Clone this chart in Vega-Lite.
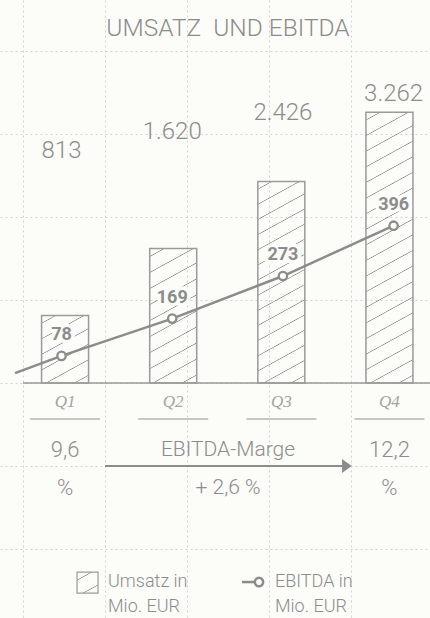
{
  "$schema": "https://vega.github.io/schema/vega-lite/v6.json",
  "width": 430,
  "height": 618,
  "autosize": {"type": "none"},
  "padding": 0,
  "background": "#fcfcf9",
  "config": {
    "view": {"stroke": null},
    "locale": {"number": {"decimal": ",", "thousands": ".", "grouping": [3], "currency": ["", " €"]}},
    "text": {"font": "Roboto, Liberation Sans, sans-serif", "fontWeight": 300, "color": "#8c8c8c", "baseline": "middle"}
  },
  "datasets": {
    "quartale": [
      {"quartal": "Vorperiode", "q": 0.58, "umsatz": null, "ebitda": 36, "marge": null},
      {"quartal": "Q1", "q": 1, "umsatz": 813, "ebitda": 78, "marge": "9,6\n%"},
      {"quartal": "Q2", "q": 2, "umsatz": 1620, "ebitda": 169, "marge": null},
      {"quartal": "Q3", "q": 3, "umsatz": 2426, "ebitda": 273, "marge": null},
      {"quartal": "Q4", "q": 4, "umsatz": 3262, "ebitda": 396, "marge": "12,2\n%"}
    ]
  },
  "data": {"name": "quartale"},
  "layer": [
    {
      "data": {"values": [{}]},
      "layer": [
        {
          "mark": {"type": "rule", "color": "#9a9a9a", "strokeWidth": 1.5},
          "encoding": {
            "x": {"datum": 0, "type": "quantitative", "scale": {"domain": [-0.2805, 4.9634], "nice": false, "zero": false},
                  "axis": {"values": [0, 1, 2, 3, 4], "grid": true, "gridDash": [2, 3], "gridColor": "#d2d2d2", "gridWidth": 1, "labels": false, "ticks": false, "domain": false, "title": null}},
            "x2": {"datum": 5.5},
            "y": {"datum": 0, "type": "quantitative", "scale": {"domain": [-2831, 4614], "nice": false, "zero": false},
                  "axis": {"values": [-2000, -1000, 0, 1000, 2000, 3000, 4000], "grid": true, "gridDash": [2, 3], "gridColor": "#d2d2d2", "gridWidth": 1, "labels": false, "ticks": false, "domain": false, "title": null}}
          }
        },
        {
          "mark": {"type": "rule", "color": "#8c8c8c", "strokeWidth": 2},
          "encoding": {
            "x": {"datum": 1, "type": "quantitative"},
            "x2": {"datum": 3.92},
            "y": {"datum": -1000, "type": "quantitative"}
          }
        },
        {
          "mark": {"type": "point", "shape": "M-0.7,-1L0.7,0L-0.7,1Z", "size": 196, "filled": true, "color": "#8c8c8c", "opacity": 1},
          "encoding": {
            "x": {"datum": 3.95, "type": "quantitative"},
            "y": {"datum": -1000, "type": "quantitative"}
          }
        },
        {
          "mark": {"type": "text", "fontSize": 24.5, "align": "center"},
          "encoding": {
            "x": {"datum": 2.5, "type": "quantitative"},
            "y": {"datum": 4270, "type": "quantitative"},
            "text": {"value": "UMSATZ\u00a0 UND EBITDA"}
          }
        },
        {
          "mark": {"type": "text", "fontSize": 21, "align": "center", "lineBreak": "\n", "lineHeight": 38},
          "encoding": {
            "x": {"datum": 2.5, "type": "quantitative"},
            "y": {"datum": -807, "type": "quantitative"},
            "text": {"value": "EBITDA-Marge\n+ 2,6 %"}
          }
        },
        {
          "mark": {"type": "point", "shape": "square", "size": 441, "filled": true, "opacity": 1, "stroke": "#9a9a9a", "strokeWidth": 1.2,
                   "fill": {"gradient": "linear", "x1": 0, "y1": 0, "x2": 0.6545, "y2": 1.19, "stops": [
                     {"offset": 0, "color": "rgba(140,140,140,0)"},
                     {"offset": 0.2254, "color": "rgba(140,140,140,0)"}, {"offset": 0.25, "color": "#8c8c8c"}, {"offset": 0.2746, "color": "rgba(140,140,140,0)"},
                     {"offset": 0.7254, "color": "rgba(140,140,140,0)"}, {"offset": 0.75, "color": "#8c8c8c"}, {"offset": 0.7746, "color": "rgba(140,140,140,0)"},
                     {"offset": 1, "color": "rgba(140,140,140,0)"}]}},
          "encoding": {
            "x": {"datum": 0.787, "type": "quantitative"},
            "y": {"datum": -2404, "type": "quantitative"}
          }
        },
        {
          "mark": {"type": "text", "fontSize": 18, "align": "left", "lineBreak": "\n", "lineHeight": 25},
          "encoding": {
            "x": {"datum": 1.037, "type": "quantitative"},
            "y": {"datum": -2398, "type": "quantitative"},
            "text": {"value": "Umsatz in\nMio. EUR"}
          }
        },
        {
          "mark": {"type": "rule", "color": "#8c8c8c", "strokeWidth": 2.5},
          "encoding": {
            "x": {"datum": 2.671, "type": "quantitative"},
            "x2": {"datum": 2.86},
            "y": {"datum": -2398, "type": "quantitative"}
          }
        },
        {
          "mark": {"type": "point", "shape": "circle", "size": 70, "filled": true, "fill": "#fcfcf9", "stroke": "#8c8c8c", "strokeWidth": 2.5, "opacity": 1},
          "encoding": {
            "x": {"datum": 2.878, "type": "quantitative"},
            "y": {"datum": -2398, "type": "quantitative"}
          }
        },
        {
          "mark": {"type": "text", "fontSize": 18, "align": "left", "lineBreak": "\n", "lineHeight": 25},
          "encoding": {
            "x": {"datum": 3.073, "type": "quantitative"},
            "y": {"datum": -2398, "type": "quantitative"},
            "text": {"value": "EBITDA in\nMio. EUR"}
          }
        }
      ]
    },
    {
      "transform": [{"filter": "datum.umsatz != null"}],
      "layer": [
        {
          "mark": {"type": "bar", "width": 47, "stroke": "#9a9a9a", "strokeWidth": 1.5},
          "encoding": {
            "x": {"field": "q", "type": "quantitative", "scale": {"domain": [0.4444, 4.3287], "nice": false, "zero": false}, "axis": null},
            "y": {"field": "umsatz", "type": "quantitative", "scale": {"domain": [-2831, 4614], "nice": false, "zero": false}, "axis": null},
            "fill": {
              "condition": [
                {"test": "datum.quartal === 'Q1'", "value": {"gradient": "linear", "x1": 0, "y1": 0, "x2": 0.462, "y2": 1.206, "stops": [
                  {"offset": 0, "color": "rgba(140,140,140,0)"},
                  {"offset": 0.0748, "color": "rgba(140,140,140,0)"}, {"offset": 0.0833, "color": "#8c8c8c"}, {"offset": 0.0919, "color": "rgba(140,140,140,0)"},
                  {"offset": 0.2414, "color": "rgba(140,140,140,0)"}, {"offset": 0.25, "color": "#8c8c8c"}, {"offset": 0.2586, "color": "rgba(140,140,140,0)"},
                  {"offset": 0.4081, "color": "rgba(140,140,140,0)"}, {"offset": 0.4167, "color": "#8c8c8c"}, {"offset": 0.4252, "color": "rgba(140,140,140,0)"},
                  {"offset": 0.5748, "color": "rgba(140,140,140,0)"}, {"offset": 0.5833, "color": "#8c8c8c"}, {"offset": 0.5919, "color": "rgba(140,140,140,0)"},
                  {"offset": 0.7414, "color": "rgba(140,140,140,0)"}, {"offset": 0.75, "color": "#8c8c8c"}, {"offset": 0.7586, "color": "rgba(140,140,140,0)"},
                  {"offset": 0.9081, "color": "rgba(140,140,140,0)"}, {"offset": 0.9167, "color": "#8c8c8c"}, {"offset": 0.9252, "color": "rgba(140,140,140,0)"},
                  {"offset": 1, "color": "rgba(140,140,140,0)"}]}},
                {"test": "datum.quartal === 'Q2'", "value": {"gradient": "linear", "x1": 0, "y1": 0, "x2": 0.221, "y2": 1.1497, "stops": [
                  {"offset": 0, "color": "rgba(140,140,140,0)"},
                  {"offset": 0.045, "color": "rgba(140,140,140,0)"}, {"offset": 0.05, "color": "#8c8c8c"}, {"offset": 0.055, "color": "rgba(140,140,140,0)"},
                  {"offset": 0.145, "color": "rgba(140,140,140,0)"}, {"offset": 0.15, "color": "#8c8c8c"}, {"offset": 0.155, "color": "rgba(140,140,140,0)"},
                  {"offset": 0.245, "color": "rgba(140,140,140,0)"}, {"offset": 0.25, "color": "#8c8c8c"}, {"offset": 0.255, "color": "rgba(140,140,140,0)"},
                  {"offset": 0.345, "color": "rgba(140,140,140,0)"}, {"offset": 0.35, "color": "#8c8c8c"}, {"offset": 0.355, "color": "rgba(140,140,140,0)"},
                  {"offset": 0.445, "color": "rgba(140,140,140,0)"}, {"offset": 0.45, "color": "#8c8c8c"}, {"offset": 0.455, "color": "rgba(140,140,140,0)"},
                  {"offset": 0.545, "color": "rgba(140,140,140,0)"}, {"offset": 0.55, "color": "#8c8c8c"}, {"offset": 0.555, "color": "rgba(140,140,140,0)"},
                  {"offset": 0.645, "color": "rgba(140,140,140,0)"}, {"offset": 0.65, "color": "#8c8c8c"}, {"offset": 0.655, "color": "rgba(140,140,140,0)"},
                  {"offset": 0.745, "color": "rgba(140,140,140,0)"}, {"offset": 0.75, "color": "#8c8c8c"}, {"offset": 0.755, "color": "rgba(140,140,140,0)"},
                  {"offset": 0.845, "color": "rgba(140,140,140,0)"}, {"offset": 0.85, "color": "#8c8c8c"}, {"offset": 0.855, "color": "rgba(140,140,140,0)"},
                  {"offset": 0.945, "color": "rgba(140,140,140,0)"}, {"offset": 0.95, "color": "#8c8c8c"}, {"offset": 0.955, "color": "rgba(140,140,140,0)"},
                  {"offset": 1, "color": "rgba(140,140,140,0)"}]}},
                {"test": "datum.quartal === 'Q3'", "value": {"gradient": "linear", "x1": 0, "y1": 0, "x2": 0.1425, "y2": 1.1101, "stops": [
                  {"offset": 0, "color": "rgba(140,140,140,0)"},
                  {"offset": 0.0298, "color": "rgba(140,140,140,0)"}, {"offset": 0.0333, "color": "#8c8c8c"}, {"offset": 0.0368, "color": "rgba(140,140,140,0)"},
                  {"offset": 0.0965, "color": "rgba(140,140,140,0)"}, {"offset": 0.1, "color": "#8c8c8c"}, {"offset": 0.1035, "color": "rgba(140,140,140,0)"},
                  {"offset": 0.1632, "color": "rgba(140,140,140,0)"}, {"offset": 0.1667, "color": "#8c8c8c"}, {"offset": 0.1702, "color": "rgba(140,140,140,0)"},
                  {"offset": 0.2298, "color": "rgba(140,140,140,0)"}, {"offset": 0.2333, "color": "#8c8c8c"}, {"offset": 0.2368, "color": "rgba(140,140,140,0)"},
                  {"offset": 0.2965, "color": "rgba(140,140,140,0)"}, {"offset": 0.3, "color": "#8c8c8c"}, {"offset": 0.3035, "color": "rgba(140,140,140,0)"},
                  {"offset": 0.3632, "color": "rgba(140,140,140,0)"}, {"offset": 0.3667, "color": "#8c8c8c"}, {"offset": 0.3702, "color": "rgba(140,140,140,0)"},
                  {"offset": 0.4298, "color": "rgba(140,140,140,0)"}, {"offset": 0.4333, "color": "#8c8c8c"}, {"offset": 0.4368, "color": "rgba(140,140,140,0)"},
                  {"offset": 0.4965, "color": "rgba(140,140,140,0)"}, {"offset": 0.5, "color": "#8c8c8c"}, {"offset": 0.5035, "color": "rgba(140,140,140,0)"},
                  {"offset": 0.5632, "color": "rgba(140,140,140,0)"}, {"offset": 0.5667, "color": "#8c8c8c"}, {"offset": 0.5702, "color": "rgba(140,140,140,0)"},
                  {"offset": 0.6298, "color": "rgba(140,140,140,0)"}, {"offset": 0.6333, "color": "#8c8c8c"}, {"offset": 0.6368, "color": "rgba(140,140,140,0)"},
                  {"offset": 0.6965, "color": "rgba(140,140,140,0)"}, {"offset": 0.7, "color": "#8c8c8c"}, {"offset": 0.7035, "color": "rgba(140,140,140,0)"},
                  {"offset": 0.7632, "color": "rgba(140,140,140,0)"}, {"offset": 0.7667, "color": "#8c8c8c"}, {"offset": 0.7702, "color": "rgba(140,140,140,0)"},
                  {"offset": 0.8298, "color": "rgba(140,140,140,0)"}, {"offset": 0.8333, "color": "#8c8c8c"}, {"offset": 0.8368, "color": "rgba(140,140,140,0)"},
                  {"offset": 0.8965, "color": "rgba(140,140,140,0)"}, {"offset": 0.9, "color": "#8c8c8c"}, {"offset": 0.9035, "color": "rgba(140,140,140,0)"},
                  {"offset": 0.9632, "color": "rgba(140,140,140,0)"}, {"offset": 0.9667, "color": "#8c8c8c"}, {"offset": 0.9702, "color": "rgba(140,140,140,0)"},
                  {"offset": 1, "color": "rgba(140,140,140,0)"}]}}
              ],
              "value": {"gradient": "linear", "x1": 0, "y1": 0, "x2": 0.1036, "y2": 1.0856, "stops": [
                {"offset": 0, "color": "rgba(140,140,140,0)"},
                {"offset": 0.0236, "color": "rgba(140,140,140,0)"}, {"offset": 0.0263, "color": "#8c8c8c"}, {"offset": 0.029, "color": "rgba(140,140,140,0)"},
                {"offset": 0.0762, "color": "rgba(140,140,140,0)"}, {"offset": 0.0789, "color": "#8c8c8c"}, {"offset": 0.0816, "color": "rgba(140,140,140,0)"},
                {"offset": 0.1289, "color": "rgba(140,140,140,0)"}, {"offset": 0.1316, "color": "#8c8c8c"}, {"offset": 0.1343, "color": "rgba(140,140,140,0)"},
                {"offset": 0.1815, "color": "rgba(140,140,140,0)"}, {"offset": 0.1842, "color": "#8c8c8c"}, {"offset": 0.1869, "color": "rgba(140,140,140,0)"},
                {"offset": 0.2341, "color": "rgba(140,140,140,0)"}, {"offset": 0.2368, "color": "#8c8c8c"}, {"offset": 0.2395, "color": "rgba(140,140,140,0)"},
                {"offset": 0.2868, "color": "rgba(140,140,140,0)"}, {"offset": 0.2895, "color": "#8c8c8c"}, {"offset": 0.2922, "color": "rgba(140,140,140,0)"},
                {"offset": 0.3394, "color": "rgba(140,140,140,0)"}, {"offset": 0.3421, "color": "#8c8c8c"}, {"offset": 0.3448, "color": "rgba(140,140,140,0)"},
                {"offset": 0.392, "color": "rgba(140,140,140,0)"}, {"offset": 0.3947, "color": "#8c8c8c"}, {"offset": 0.3974, "color": "rgba(140,140,140,0)"},
                {"offset": 0.4447, "color": "rgba(140,140,140,0)"}, {"offset": 0.4474, "color": "#8c8c8c"}, {"offset": 0.4501, "color": "rgba(140,140,140,0)"},
                {"offset": 0.4973, "color": "rgba(140,140,140,0)"}, {"offset": 0.5, "color": "#8c8c8c"}, {"offset": 0.5027, "color": "rgba(140,140,140,0)"},
                {"offset": 0.5499, "color": "rgba(140,140,140,0)"}, {"offset": 0.5526, "color": "#8c8c8c"}, {"offset": 0.5553, "color": "rgba(140,140,140,0)"},
                {"offset": 0.6026, "color": "rgba(140,140,140,0)"}, {"offset": 0.6053, "color": "#8c8c8c"}, {"offset": 0.608, "color": "rgba(140,140,140,0)"},
                {"offset": 0.6552, "color": "rgba(140,140,140,0)"}, {"offset": 0.6579, "color": "#8c8c8c"}, {"offset": 0.6606, "color": "rgba(140,140,140,0)"},
                {"offset": 0.7078, "color": "rgba(140,140,140,0)"}, {"offset": 0.7105, "color": "#8c8c8c"}, {"offset": 0.7132, "color": "rgba(140,140,140,0)"},
                {"offset": 0.7605, "color": "rgba(140,140,140,0)"}, {"offset": 0.7632, "color": "#8c8c8c"}, {"offset": 0.7659, "color": "rgba(140,140,140,0)"},
                {"offset": 0.8131, "color": "rgba(140,140,140,0)"}, {"offset": 0.8158, "color": "#8c8c8c"}, {"offset": 0.8185, "color": "rgba(140,140,140,0)"},
                {"offset": 0.8657, "color": "rgba(140,140,140,0)"}, {"offset": 0.8684, "color": "#8c8c8c"}, {"offset": 0.8711, "color": "rgba(140,140,140,0)"},
                {"offset": 0.9184, "color": "rgba(140,140,140,0)"}, {"offset": 0.9211, "color": "#8c8c8c"}, {"offset": 0.9238, "color": "rgba(140,140,140,0)"},
                {"offset": 0.971, "color": "rgba(140,140,140,0)"}, {"offset": 0.9737, "color": "#8c8c8c"}, {"offset": 0.9764, "color": "rgba(140,140,140,0)"},
                {"offset": 1, "color": "rgba(140,140,140,0)"}]}
            }
          }
        },
        {
          "mark": {"type": "text", "font": "Liberation Serif", "fontStyle": "italic", "fontWeight": "normal", "fontSize": 17, "color": "#a3a3a3", "align": "center"},
          "encoding": {
            "x": {"field": "q", "type": "quantitative"},
            "y": {"datum": -229, "type": "quantitative"},
            "text": {"field": "quartal"}
          }
        },
        {
          "mark": {"type": "tick", "orient": "horizontal", "size": 70, "thickness": 1.5, "color": "#b5b5b5", "opacity": 1},
          "encoding": {
            "x": {"field": "q", "type": "quantitative"},
            "y": {"datum": -434, "type": "quantitative"}
          }
        },
        {
          "transform": [{"filter": "datum.marge != null"}],
          "mark": {"type": "text", "fontSize": 22, "align": "center", "lineBreak": "\n", "lineHeight": 38},
          "encoding": {
            "x": {"field": "q", "type": "quantitative"},
            "y": {"datum": -807, "type": "quantitative"},
            "text": {"field": "marge"}
          }
        }
      ]
    },
    {
      "layer": [
        {
          "mark": {"type": "line", "color": "#8c8c8c", "strokeWidth": 2.5},
          "encoding": {
            "x": {"field": "q", "type": "quantitative", "scale": {"domain": [0.4444, 4.3287], "nice": false, "zero": false}, "axis": null},
            "y": {"field": "ebitda", "type": "quantitative", "scale": {"domain": [-562, 947], "nice": false, "zero": false}, "axis": null},
            "order": {"field": "q"}
          }
        },
        {
          "transform": [{"filter": "datum.umsatz != null"}],
          "mark": {"type": "point", "shape": "circle", "size": 70, "filled": true, "fill": "#fcfcf9", "stroke": "#8c8c8c", "strokeWidth": 2.3, "opacity": 1},
          "encoding": {
            "x": {"field": "q", "type": "quantitative"},
            "y": {"field": "ebitda", "type": "quantitative"}
          }
        },
        {
          "transform": [{"filter": "datum.umsatz != null"}],
          "mark": {"type": "text", "fontSize": 18, "fontWeight": "bold", "align": "center", "yOffset": -21, "color": "#fcfcf9", "stroke": "#fcfcf9", "strokeWidth": 7, "strokeJoin": "round"},
          "encoding": {
            "x": {"field": "q", "type": "quantitative"},
            "y": {"field": "ebitda", "type": "quantitative"},
            "text": {"field": "ebitda"}
          }
        },
        {
          "transform": [{"filter": "datum.umsatz != null"}],
          "mark": {"type": "text", "fontSize": 18, "fontWeight": "bold", "align": "center", "yOffset": -21, "color": "#8c8c8c"},
          "encoding": {
            "x": {"field": "q", "type": "quantitative"},
            "y": {"field": "ebitda", "type": "quantitative"},
            "text": {"field": "ebitda"}
          }
        }
      ]
    },
    {
      "transform": [{"filter": "datum.umsatz != null"}],
      "mark": {"type": "text", "fontSize": 24, "align": "center"},
      "encoding": {
        "x": {"field": "q", "type": "quantitative", "scale": {"domain": [0.4444, 4.3287], "nice": false, "zero": false}, "axis": null},
        "y": {"field": "umsatz", "type": "quantitative", "scale": {"domain": [-19420, 7333], "nice": false, "zero": false}, "axis": null},
        "text": {"field": "umsatz", "format": ",d"}
      }
    }
  ],
  "resolve": {"scale": {"x": "independent", "y": "independent"}}
}
